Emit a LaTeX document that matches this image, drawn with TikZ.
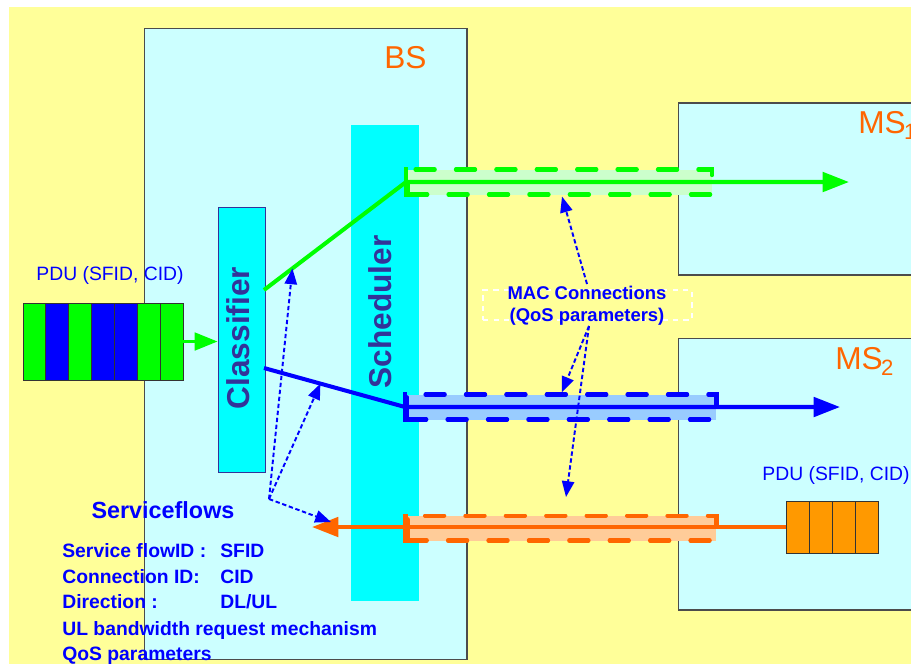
\documentclass[tikz,border=0pt]{standalone}
\usepackage{fontspec}
\setmainfont{Liberation Sans}
\usepackage{xcolor}
\usepackage{tikz}
\usetikzlibrary{arrows.meta, calc}
\definecolor{bgyellow}{RGB}{255,255,153}
\definecolor{boxcyan}{RGB}{204,255,255}
\definecolor{unitcyan}{RGB}{0,255,255}
\definecolor{ink}{RGB}{51,51,153}
\definecolor{flowgreen}{RGB}{0,255,0}
\definecolor{flowblue}{RGB}{0,0,255}
\definecolor{floworange}{RGB}{255,102,0}
\definecolor{lightgreen}{RGB}{204,255,204}
\definecolor{lightblue}{RGB}{153,204,255}
\definecolor{lightorange}{RGB}{255,204,153}
\definecolor{pdugold}{RGB}{255,153,0}
\tikzset{
  station/.style  = {rectangle, draw=black!70, fill=boxcyan,
                     line width=0.6pt, inner sep=0pt},   % BS / MS boxes
  unit/.style     = {rectangle, fill=unitcyan, inner sep=0pt},
  unitlabel/.style= {rotate=90, text=ink, inner sep=0pt,
                     font=\fontsize{18}{20}\selectfont\bfseries},
  stname/.style   = {anchor=base west, text=floworange, inner sep=0pt,
                     font=\fontsize{18}{20}\selectfont},
  pipe/.style     = {rectangle, draw=#1, inner sep=0pt, line width=2.3pt,
                     line cap=round, dash pattern=on 11pt off 12pt},
  flow/.style     = {line width=2.3pt, -{Triangle[length=15pt,width=11pt]}},
  feed/.style     = {line width=1.7pt, flowgreen,
                     -{Triangle[length=13pt,width=10pt]}},
  hint/.style     = {flowblue, line width=1.1pt, dash pattern=on 2.5pt off 1.5pt,
                     -{Triangle[length=9pt,width=7pt]}},
  cell/.style     = {rectangle, draw=black!80, line width=0.5pt, inner sep=0pt},
  pdulabel/.style = {text=flowblue, inner sep=0pt, font=\fontsize{11}{13}\selectfont},
  sftext/.style   = {anchor=base west, text=flowblue, inner sep=0pt,
                     font=\fontsize{11}{13}\selectfont\bfseries}
}
\begin{document}
\begin{tikzpicture}[x=0.02cm, y=-0.02cm]
  \clip (0,0) rectangle (911,664);
  \fill[white] (0,0) rectangle (911,664);
  \fill[bgyellow] (9,7) rectangle (911,664);

  % stations
  \node[station, minimum width=6.46cm, minimum height=12.64cm] (bs) at (305.5,344) {};
  \node[station, minimum width=5.24cm, minimum height=3.44cm] (ms1) at (809,189) {};
  \node[station, minimum width=5.24cm, minimum height=5.44cm] (ms2) at (809,474) {};
  \node[stname] (bsname) at (384,68) {BS};
  \node[stname] (ms1name) at (858,133) {MS\textsubscript{\kern-1pt\raisebox{-1pt}{1}}};
  \node[stname] (ms2name) at (835,369) {MS\textsubscript{\kern-1pt\raisebox{-1pt}{2}}};

  % classifier and scheduler
  \node[unit, minimum width=1.36cm, minimum height=9.52cm] (scheduler) at (385,363) {};
  \node[unitlabel] (schedtext) at (380,312) {Scheduler};
  \node[unit, draw=ink, line width=0.5pt, minimum width=0.94cm, minimum height=5.3cm] (classifier) at (241.5,339.5) {};
  \node[unitlabel] (classtext) at (238,338) {Classifier};

  % MAC connections
  \node[pipe=flowgreen, fill=lightgreen, minimum width=6.08cm, minimum height=0.5cm] (gpipe) at (560,182) {};
  \node[pipe=flowblue, fill=lightblue, minimum width=6.19cm, minimum height=0.5cm] (bpipe) at (561.75,407) {};
  \node[pipe=floworange, fill=lightorange, minimum width=6.18cm, minimum height=0.5cm] (opipe) at (562,528) {};
  \draw[line width=2.3pt, flowgreen] (gpipe.north west) -- (gpipe.south west);
  \draw[line width=2.3pt, flowblue] (bpipe.north west) -- (bpipe.south west);
  \draw[line width=2.3pt, floworange] (opipe.north west) -- (opipe.south west);

  \coordinate (cg) at (264,290);
  \coordinate (cb) at (264,368);
  \coordinate (gtip) at (849,182);
  \coordinate (btip) at (840,407);
  \coordinate (otip) at (312,527);
  \draw[flow, flowgreen] (cg) -- (gpipe.west) -- (gtip);
  \draw[flow, flowblue] (cb) -- (bpipe.west) -- (btip);

  % PDU queues
  \foreach \c [count=\i] in {flowgreen,flowblue,flowgreen,flowblue,flowblue,flowgreen,flowgreen}
    \node[cell, fill=\c, minimum width=0.457cm, minimum height=1.54cm] (lq\i) at ({23+22.86*(\i-0.5)},341.5) {};
  \foreach \i in {1,...,4}
    \node[cell, fill=pdugold, minimum width=0.46cm, minimum height=1.04cm] (rq\i) at ({786+23*(\i-0.5)},527) {};
  \draw[feed] (lq7.east) -- (lq7.east -| classifier.west);
  \draw[flow, floworange] (rq1.west) -- (otip);
  \node[pdulabel] (pduleft) at (110,275) {PDU (SFID, CID)};
  \node[pdulabel] (pduright) at (836,475) {PDU (SFID, CID)};

  % service flow parameters
  \node[text=flowblue, inner sep=0pt, font=\fontsize{13.3}{15}\selectfont\bfseries] (sfhead) at (163,510) {Serviceflows};
  \node[sftext] (sf1) at (62,557) {Service flowID :};
  \node[sftext] (sf2) at (62,583) {Connection ID:};
  \node[sftext] (sf3) at (62,608) {Direction :};
  \node[sftext] (sf4) at (62,635) {UL bandwidth request mechanism};
  \node[sftext] (sf5) at (62,660) {QoS parameters};
  \node[sftext] (sv1) at (220,557) {SFID};
  \node[sftext] (sv2) at (220,583) {CID};
  \node[sftext] (sv3) at (220,608) {DL/UL};

  \coordinate (sf) at (269,499);
  \coordinate (sfo) at (331,522);
  \draw[hint] (sf) -- ($(cg)!0.2!(gpipe.west)$);
  \draw[hint] (sf) -- ($(cb)!0.4!(bpipe.west)$);
  \draw[hint] (sf) -- (sfo);

  % MAC connection label
  \node[draw=white, dashed, line width=0.8pt, minimum width=4.18cm, minimum height=0.6cm] (macbox) at (587.5,305) {};
  \node[text=flowblue, inner sep=0pt, align=center, font=\fontsize{10.5}{12.5}\selectfont\bfseries] (mac) at (587,306) {MAC Connections\\(QoS parameters)};
  \coordinate (m1) at (587,284);
  \coordinate (m2) at (589,326);
  \coordinate (mo) at (566,497);
  \draw[hint] (m1) -- ($(gpipe.south)+(2,0)$);
  \draw[hint] (m2) -- (bpipe.north);
  \draw[hint] (m2) -- (mo);
\end{tikzpicture}
\end{document}
